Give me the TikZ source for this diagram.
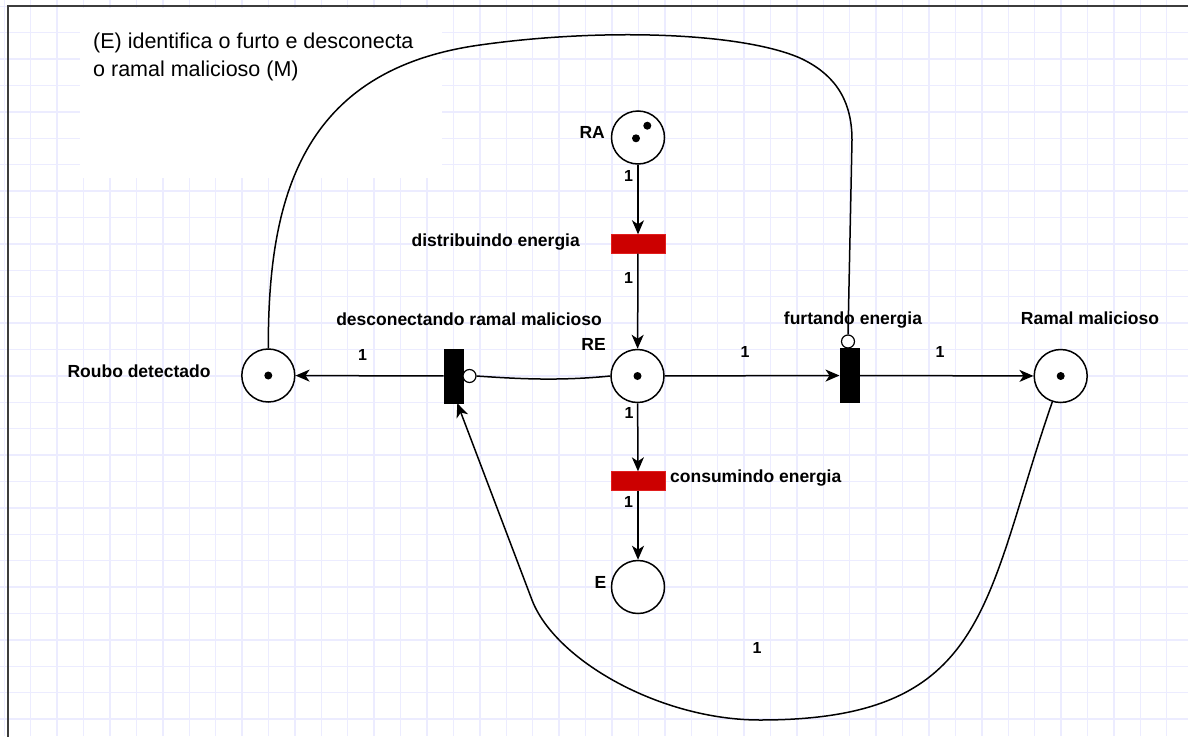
\documentclass[tikz,border=0pt]{standalone}
\usepackage{fontspec}
\setmainfont{Liberation Sans}
\usetikzlibrary{arrows.meta}
\definecolor{gridc}{RGB}{236,236,255}
\definecolor{tred}{RGB}{204,0,0}
\definecolor{tredb}{RGB}{225,30,30}
\definecolor{framec}{RGB}{60,60,60}
\begin{document}
\begin{tikzpicture}[x=1pt,y=-1pt,
  place/.style={circle,draw,line width=1.5pt,fill=white,minimum size=53pt,inner sep=0pt},
  vtrans/.style={rectangle,fill=black,draw=black,minimum width=19pt,minimum height=54pt,inner sep=0pt},
  htrans/.style={rectangle,fill=tred,draw=tredb,minimum width=54pt,minimum height=19pt,inner sep=0pt},
  inhib/.style={circle,draw,line width=1.2pt,fill=white,minimum size=13pt,inner sep=0pt},
  token/.style={circle,fill=black,minimum size=8pt,inner sep=0pt},
  lbl/.style={font=\fontsize{17.5}{20}\selectfont\bfseries,inner sep=0pt},
  wt/.style={font=\fontsize{16}{18}\selectfont\bfseries,inner sep=0pt},
  notetxt/.style={font=\fontsize{21.5}{26}\selectfont,inner sep=0pt},
  arc/.style={line width=1.5pt},
  arr/.style={arc,-{Stealth[length=14pt,width=12pt,inset=4pt]}},
]
\useasboundingbox (0,0) rectangle (1188,736);
% grid
\foreach \i in {0,...,45} \draw[gridc,line width=1.4pt] ({4.3+26.42*\i},0) -- ({4.3+26.42*\i},736);
\foreach \j in {0,...,28} \draw[gridc,line width=1.4pt] (0,{6.3+26.4*\j}) -- (1188,{6.3+26.4*\j});
% white note area
\fill[white] (80,8) rectangle (442,178);
% frame
\draw[framec,line width=2pt] (7.7,740) -- (7.7,6) -- (1192,6);
% note text
\node[notetxt,anchor=base west] (note1) at (93,48.3) {(E) identifica o furto e desconecta};
\node[notetxt,anchor=base west] (note2) at (93,76.5) {o ramal malicioso (M)};
% places
\node[place] (RA) at (638,137.5) {};
\node[place] (RE) at (637.5,376) {};
\node[place] (E) at (638,587) {};
\node[place] (RD) at (268.3,375.5) {};
\node[place] (RM) at (1060.7,376) {};
% tokens
\node[token] (tokA1) at (647.3,125.7) {};
\node[token] (tokA2) at (636,138.3) {};
\node[token] (tokE) at (637.5,376) {};
\node[token] (tokD) at (268.3,375.5) {};
\node[token] (tokM) at (1060.7,376) {};
% transitions
\node[htrans] (T1) at (638,244) {};
\node[htrans] (T3) at (638,481) {};
\node[vtrans] (TD) at (453.3,376) {};
\node[vtrans] (TF) at (849.2,375.5) {};
\node[inhib] (inh1) at (469.5,376) {};
\node[inhib] (inh2) at (848,341.5) {};
% labels
\node[lbl,anchor=base east] (lRA) at (605,138.5) {RA};
\node[lbl,anchor=base east] (lT1) at (580,246) {distribuindo energia};
\node[lbl,anchor=base] (lTD) at (469,325) {desconectando ramal malicioso};
\node[lbl,anchor=base east] (lRE) at (606,350.7) {RE};
\node[lbl,anchor=base] (lRD) at (139,377.3) {Roubo detectado};
\node[lbl,anchor=base] (lTF) at (853,324.5) {furtando energia};
\node[lbl,anchor=base] (lRM) at (1090,324.5) {Ramal malicioso};
\node[lbl,anchor=base west] (lT3) at (670,482.5) {consumindo energia};
\node[lbl,anchor=base east] (lE) at (606.5,588.5) {E};
% weights
\node[wt,anchor=base] (w1) at (628.5,181.7) {1};
\node[wt,anchor=base] (w2) at (628.5,283) {1};
\node[wt,anchor=base] (w3) at (629,418) {1};
\node[wt,anchor=base] (w4) at (628.5,507.3) {1};
\node[wt,anchor=base] (w5) at (362.5,360) {1};
\node[wt,anchor=base] (w6) at (745,357.5) {1};
\node[wt,anchor=base] (w7) at (940,357.3) {1};
\node[wt,anchor=base] (w8) at (757,653.3) {1};
% arcs
\draw[arr] (RA) -- (T1);
\draw[arr] (T1) -- (RE);
\draw[arr] (RE) -- (T3);
\draw[arr] (T3) -- (E);
\draw[arr] (RE) -- (TF);
\draw[arr] (TF) -- (RM);
\draw[arr] (TD) -- (RD);
\draw[arc] (RE.west) .. controls (560,381) and (520,379) .. (inh1.east);
\draw[arc] (RD.north) .. controls (268,200) and (300,70) .. (480,45)
  .. controls (600,28) and (740,32) .. (800,58)
  .. controls (830,72) and (852,95) .. (852,140) -- (inh2.north);
\draw[arr] (RM.-108) .. controls (983,602) and (990,720) .. (760,720)
  .. controls (660,720) and (555,660) .. (532,600) -- ([xshift=4pt]TD.south);
\end{tikzpicture}
\end{document}
